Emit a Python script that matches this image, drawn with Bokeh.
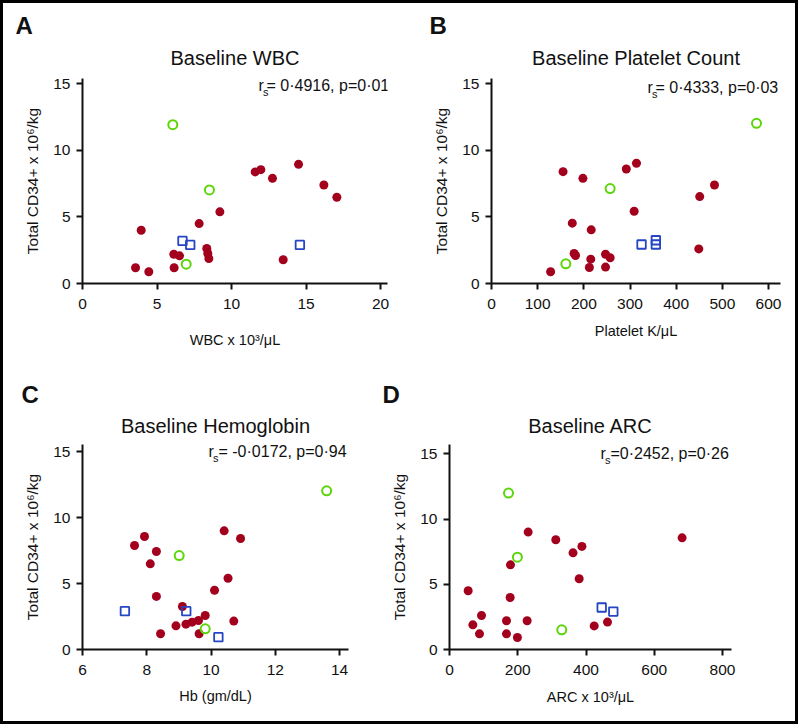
from bokeh.plotting import figure
from bokeh.models import Range1d, FixedTicker, Label, Title
from bokeh.layouts import column, row
from bokeh.embed import file_html
from bokeh.resources import INLINE

# ---------------- data ----------------
# Panel A: Baseline WBC (x 10^3/uL) vs total CD34+ (x 10^6/kg)
wbc_red_x = [3.56, 4.45, 3.94, 6.13, 6.51, 6.15, 7.83, 8.34, 8.41, 8.48, 9.22, 11.59, 11.97, 12.75, 13.47, 14.5, 16.2, 17.07]
wbc_red_y = [1.18, 0.88, 4.0, 2.2, 2.08, 1.18, 4.5, 2.63, 2.25, 1.88, 5.38, 8.38, 8.55, 7.9, 1.78, 8.95, 7.4, 6.48]
wbc_green_x = [6.06, 8.52, 6.96]
wbc_green_y = [11.93, 7.03, 1.45]
wbc_blue_x = [6.71, 7.23, 14.59]
wbc_blue_y = [3.2, 2.9, 2.9]

# Panel B: Baseline platelet count (K/uL)
plt_red_x = [128, 155, 198, 175, 216, 179, 182, 215, 212, 247, 257, 247, 292, 314, 309, 451, 483, 449]
plt_red_y = [0.88, 8.4, 7.9, 4.53, 4.03, 2.25, 2.1, 1.83, 1.2, 2.2, 1.93, 1.23, 8.6, 9.03, 5.43, 6.53, 7.4, 2.6]
plt_green_x = [574, 257, 161]
plt_green_y = [12.03, 7.13, 1.48]
plt_blue_x = [325, 356, 356]
plt_blue_y = [2.93, 3.25, 2.93]

# Panel C: Baseline hemoglobin (gm/dL)
hb_red_x = [7.62, 7.93, 8.30, 8.11, 8.30, 9.11, 10.41, 10.92, 10.53, 10.11, 8.43, 8.91, 9.22, 9.41, 9.61, 9.82, 9.63, 10.71]
hb_red_y = [7.88, 8.56, 7.42, 6.49, 4.02, 3.26, 8.99, 8.41, 5.40, 4.49, 1.19, 1.79, 1.92, 2.07, 2.2, 2.58, 1.19, 2.15]
hb_green_x = [9.01, 13.6, 9.82]
hb_green_y = [7.12, 12.02, 1.57]
hb_blue_x = [7.32, 9.23, 10.23]
hb_blue_y = [2.9, 2.9, 0.93]

# Panel D: Baseline ARC (x 10^3/uL)
arc_red_x = [54.7, 68.4, 87.9, 93.8, 167, 167, 177.7, 178.7, 199, 227.5, 230.5, 311.5, 362, 388, 380, 424, 463, 681.6]
arc_red_y = [4.5, 1.89, 1.2, 2.61, 2.2, 1.2, 3.99, 6.49, 0.92, 2.2, 9.0, 8.41, 7.41, 7.9, 5.42, 1.81, 2.1, 8.56]
arc_green_x = [172.9, 199, 329]
arc_green_y = [11.99, 7.08, 1.51]
arc_blue_x = [446, 480]
arc_blue_y = [3.22, 2.91]

titles = ["Baseline WBC", "Baseline Platelet Count", "Baseline Hemoglobin", "Baseline ARC"]
letters = ["A", "B", "C", "D"]
x_labels = ["WBC x 10\u00b3/\u03bcL", "Platelet K/\u03bcL", "Hb (gm/dL)", "ARC x 10\u00b3/\u03bcL"]
y_label = "Total CD34+ x 10\u2076/kg"
stat_texts = ["= 0\u00b74916, p=0\u00b701", "= 0\u00b74333, p=0\u00b703",
              "= -0\u00b70172, p=0\u00b794", "=0\u00b72452, p=0\u00b726"]
x_ticks = [[0, 5, 10, 15, 20], [0, 100, 200, 300, 400, 500, 600],
           [6, 8, 10, 12, 14], [0, 200, 400, 600, 800]]
y_ticks = [0, 5, 10, 15]

# ---------------- style ----------------
RED = "#a3001e"
GREEN = "#5cd60a"
BLUE = "#2446c4"
INK = "#111111"
FONT = "Liberation Sans"


def lin(p_lo, v_lo, p_hi, v_hi):
    k = (v_hi - v_lo) / (p_hi - p_lo)
    return lambda px: v_lo + (px - p_lo) * k


def panel(box, frame, xcal, ycal, xt, xlab, title, title_so, letter, letter_x, letter_so,
          stat, stat_pos, red, green, blue, xlab_standoff):
    fl, ft, fw, fh = box
    L, R, T, B = frame
    fx = lin(*xcal)
    fy = lin(*ycal)
    p = figure(width=fw, height=fh, output_backend="svg", toolbar_location=None,
               x_range=Range1d(fx(L), fx(R)), y_range=Range1d(fy(B), fy(T)),
               min_border_left=L - fl, min_border_right=fl + fw - R,
               min_border_top=T - ft, min_border_bottom=ft + fh - B,
               background_fill_color="white", border_fill_color="white")
    p.outline_line_color = None
    p.xgrid.visible = False
    p.ygrid.visible = False
    p.xaxis.ticker = FixedTicker(ticks=xt)
    p.yaxis.ticker = FixedTicker(ticks=y_ticks)
    p.xaxis.axis_label = xlab
    p.yaxis.axis_label = y_label
    for ax in (p.xaxis[0], p.yaxis[0]):
        ax.axis_line_width = 2
        ax.axis_line_color = INK
        ax.major_tick_line_width = 2
        ax.major_tick_line_color = INK
        ax.major_tick_out = 6
        ax.major_tick_in = 0
        ax.minor_tick_line_color = None
        ax.major_label_text_font = FONT
        ax.major_label_text_font_size = "15.5px"
        ax.major_label_text_color = INK
        ax.axis_label_text_font = FONT
        ax.axis_label_text_font_style = "normal"
        ax.axis_label_text_color = INK
    p.xaxis.axis_label_text_font_size = "14.5px"
    p.yaxis.axis_label_text_font_size = "15.5px"
    p.yaxis.major_label_standoff = 6
    p.xaxis.major_label_standoff = 9
    p.yaxis.axis_label_standoff = 9
    p.xaxis.axis_label_standoff = xlab_standoff

    # panel letter (outermost) and chart title (next to the frame)
    p.title.text = letter
    p.title.align = "left"
    p.title.offset = letter_x - L
    p.title.standoff = letter_so
    p.title.text_font = FONT
    p.title.text_font_size = "24px"
    p.title.text_font_style = "bold"
    p.title.text_color = INK
    p.add_layout(Title(text=title, align="center", standoff=title_so, text_font=FONT,
                       text_font_size="20px", text_font_style="normal", text_color=INK),
                 "above")

    p.scatter(red[0], red[1], marker="circle", size=9, fill_color=RED, line_color=None)
    p.scatter(green[0], green[1], marker="circle", size=9, fill_color=None,
              line_color=GREEN, line_width=2)
    p.scatter(blue[0], blue[1], marker="square", size=8.5, fill_color=None,
              line_color=BLUE, line_width=1.8)

    sx, sy, gap = stat_pos
    p.add_layout(Label(x=fx(sx), y=fy(sy), text="r", text_font=FONT, text_font_size="16px",
                       text_color=INK, text_align="left", text_baseline="middle"))
    p.add_layout(Label(x=fx(sx + 4.5), y=fy(sy + 6), text="s", text_font=FONT,
                       text_font_size="11px", text_color=INK, text_align="left",
                       text_baseline="middle"))
    p.add_layout(Label(x=fx(sx + gap), y=fy(sy), text=stat, text_font=FONT, text_font_size="16px",
                       text_color=INK, text_align="left", text_baseline="middle"))
    return p


pa = panel((3, 3, 396, 365), (82, 387, 78, 283), (82, 0, 380, 20), (283, 0, 83.3, 15),
           x_ticks[0], x_labels[0], titles[0], 19, letters[0], 15, -7, stat_texts[0], (258, 85, 8),
           (wbc_red_x, wbc_red_y), (wbc_green_x, wbc_green_y), (wbc_blue_x, wbc_blue_y), 20)
pb = panel((399, 3, 396, 365), (491, 780, 78, 283), (491, 0, 768, 600), (283, 0, 83.3, 15),
           x_ticks[1], x_labels[1], titles[1], 19, letters[1], 429, -7, stat_texts[1], (647, 87, 8),
           (plt_red_x, plt_red_y), (plt_green_x, plt_green_y), (plt_blue_x, plt_blue_y), 11)
pc = panel((3, 368, 377, 353), (82, 348, 444, 649), (82, 6, 339, 14), (649, 0, 451, 15),
           x_ticks[2], x_labels[2], titles[2], 15, letters[2], 21, -5, stat_texts[2], (208, 451, 10),
           (hb_red_x, hb_red_y), (hb_green_x, hb_green_y), (hb_blue_x, hb_blue_y), 10)
pd_ = panel((380, 368, 415, 353), (449, 731, 444, 649), (449, 0, 722, 800), (649, 0, 453.3, 15),
            x_ticks[3], x_labels[3], titles[3], 15, letters[3], 382, -5, stat_texts[3], (600, 453, 10),
            (arc_red_x, arc_red_y), (arc_green_x, arc_green_y), (arc_blue_x, arc_blue_y), 11)

layout = column(row(pa, pb), row(pc, pd_), styles={"border": "3px solid #000"})
open("out.html", "w").write(file_html(layout, INLINE))
